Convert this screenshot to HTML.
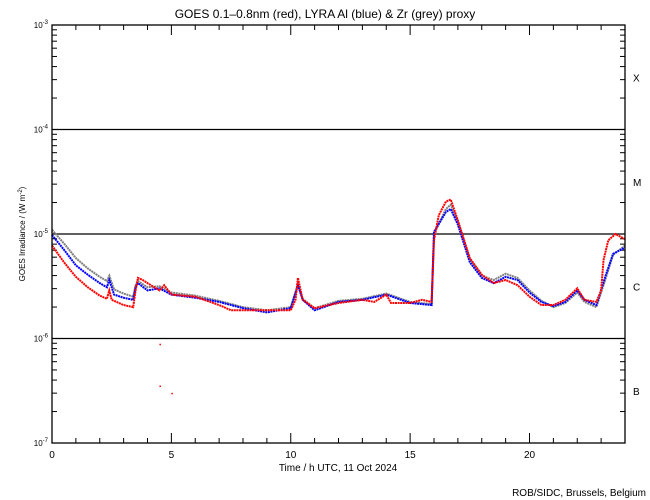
<!DOCTYPE html>
<html><head><meta charset="utf-8"><style>
body{margin:0;background:#fff;}
svg{display:block;font-family:"Liberation Sans",sans-serif;}
</style></head><body>
<svg id="chart" width="650" height="500" xmlns="http://www.w3.org/2000/svg"></svg>
<script>
const xTicks=[0,5,10,15,20];
const decades=[-3,-4,-5,-6,-7];
const classes=["X","M","C","B"];
const redT=[0,0.5,1,1.5,2,2.3,2.4,2.5,3,3.4,3.5,3.6,3.8,4,4.5,4.7,5,6,7,7.5,8,9,10,10.2,10.3,10.5,11,12,13,13.5,14,14.2,15,15.5,15.9,16,16.2,16.5,16.7,17,17.5,18,18.5,19,19.5,20,20.5,21,21.5,22,22.3,22.8,23,23.1,23.3,23.6,24];
const redY=[-5.11,-5.27,-5.41,-5.51,-5.59,-5.62,-5.54,-5.63,-5.68,-5.70,-5.54,-5.42,-5.44,-5.47,-5.54,-5.49,-5.58,-5.60,-5.68,-5.73,-5.73,-5.73,-5.73,-5.63,-5.42,-5.63,-5.71,-5.66,-5.63,-5.65,-5.58,-5.66,-5.66,-5.63,-5.65,-5.06,-4.82,-4.69,-4.67,-4.87,-5.23,-5.39,-5.47,-5.44,-5.49,-5.60,-5.68,-5.68,-5.63,-5.52,-5.63,-5.65,-5.54,-5.25,-5.06,-5.00,-5.05];
const blueT=[0,0.5,1,1.5,2,2.3,2.4,2.6,3,3.4,3.5,3.6,4,4.5,5,6,7,8,9,10,10.3,10.5,11,12,13,14,15,15.9,16,16.5,16.7,17,17.5,18,18.5,19,19.5,20,20.5,21,21.5,22,22.3,22.8,23.2,23.5,24];
const blueY=[-5.01,-5.15,-5.30,-5.39,-5.47,-5.51,-5.44,-5.58,-5.61,-5.63,-5.51,-5.47,-5.54,-5.52,-5.58,-5.61,-5.65,-5.71,-5.75,-5.71,-5.49,-5.63,-5.73,-5.65,-5.63,-5.58,-5.66,-5.68,-4.98,-4.79,-4.76,-4.91,-5.27,-5.42,-5.47,-5.41,-5.44,-5.56,-5.65,-5.69,-5.65,-5.54,-5.63,-5.68,-5.39,-5.19,-5.13];
const greyT=[0,0.5,1,1.5,2,2.3,2.4,2.6,3,3.4,3.5,3.6,4,4.5,5,6,7,8,9,10,10.3,10.5,11,12,13,14,15,15.9,16,16.5,16.7,17,17.5,18,18.5,19,19.5,20,20.5,21,21.5,22,22.3,22.8,23.2,23.5,24];
const greyY=[-4.96,-5.09,-5.23,-5.33,-5.41,-5.45,-5.40,-5.53,-5.57,-5.60,-5.49,-5.45,-5.51,-5.50,-5.56,-5.59,-5.64,-5.70,-5.73,-5.70,-5.48,-5.62,-5.71,-5.64,-5.62,-5.57,-5.65,-5.67,-5.00,-4.76,-4.72,-4.88,-5.24,-5.40,-5.44,-5.38,-5.42,-5.54,-5.64,-5.70,-5.66,-5.56,-5.65,-5.70,-5.42,-5.20,-5.11];
const strayT=[4.5,4.5,5];
const strayY=[-5.10-0.95,-6.45,-6.52];

const NS="http://www.w3.org/2000/svg";
const svg=document.getElementById('chart');
const L=52,R=625,T=25,B=443;
const sx=h=>L+h*(R-L)/24;
const sy=lg=>T+(-3-lg)*(B-T)/4;
function el(tag,attrs,parent){const e=document.createElementNS(NS,tag);for(const k in attrs)e.setAttribute(k,attrs[k]);(parent||svg).appendChild(e);return e;}
function txt(x,y,s,size,anchor,parent){const t=el('text',{x:x,y:y,'font-size':size,'text-anchor':anchor||'start',fill:'#000'},parent);t.textContent=s;return t;}

const title=txt(325,18,"GOES 0.1\u20130.8nm (red), LYRA Al (blue) & Zr (grey) proxy",12,'middle');



// decade lines
decades.forEach((d,i)=>{
  if(i>0&&i<4){const ln=el('line',{x1:L,x2:R,y1:sy(d),y2:sy(d),stroke:'#000','stroke-width':1.3});
  
  }
  const g=el('text',{x:L-4,y:sy(d)+3,'font-size':8,'text-anchor':'end'});
  
  
  g.textContent='10';
  const sp=el('tspan',{dy:-4,'font-size':6},g);sp.textContent=String(d);
  if(d>-7){for(let m=2;m<=9;m++){const y=sy(d-1+Math.log10(m));
    el('line',{x1:L,x2:L+5,y1:y,y2:y,stroke:'#000'});
    el('line',{x1:R,x2:R-5,y1:y,y2:y,stroke:'#000'});}}
});
classes.forEach((c,i)=>{const t=txt(633,sy(-3-i-0.5)+4,c,10,'start');
  
  });

// x ticks
for(let h=0;h<=24;h++){const len=(h%5==0)?10:5;
  el('line',{x1:sx(h),x2:sx(h),y1:B,y2:B-len,stroke:'#000'});
  el('line',{x1:sx(h),x2:sx(h),y1:T,y2:T+len,stroke:'#000'});}
xTicks.forEach(h=>{const t=txt(sx(h),458,String(h),10,'middle');
  
  });
const xt=txt(338,471,"Time / h UTC, 11 Oct 2024",10,'middle');


const yt=el('text',{x:0,y:0,'font-size':8,'text-anchor':'middle',transform:'translate(25,234) rotate(-90)'});


yt.textContent='GOES Irradiance / (W m';
const ys=el('tspan',{dy:-3,'font-size':6},yt);ys.textContent='-2';
const ye=el('tspan',{dy:3},yt);ye.textContent=')';
const cr=txt(646,496,"ROB/SIDC, Brussels, Belgium",10,'end');



function series(ts,ys,color,name){
  const p=el('polyline',{points:ts.map((t,i)=>sx(t)+','+sy(ys[i])).join(' '),fill:'none',stroke:color,'stroke-width':2,'stroke-dasharray':'2 0.6'});
  
  
}
series(greyT,greyY,'#808080','zr-grey-series');
series(blueT,blueY,'#0000ff','al-blue-series');
series(redT,redY,'#ff0000','goes-red-series');
strayT.forEach((t,i)=>{const r=el('rect',{x:sx(t),y:sy(strayY[i]),width:1.5,height:1.5,fill:'#f00'});
  
  });

const frame=el('rect',{x:L,y:T,width:R-L,height:B-T,fill:'none',stroke:'#000','stroke-width':1.3});


</script>
</body></html>
